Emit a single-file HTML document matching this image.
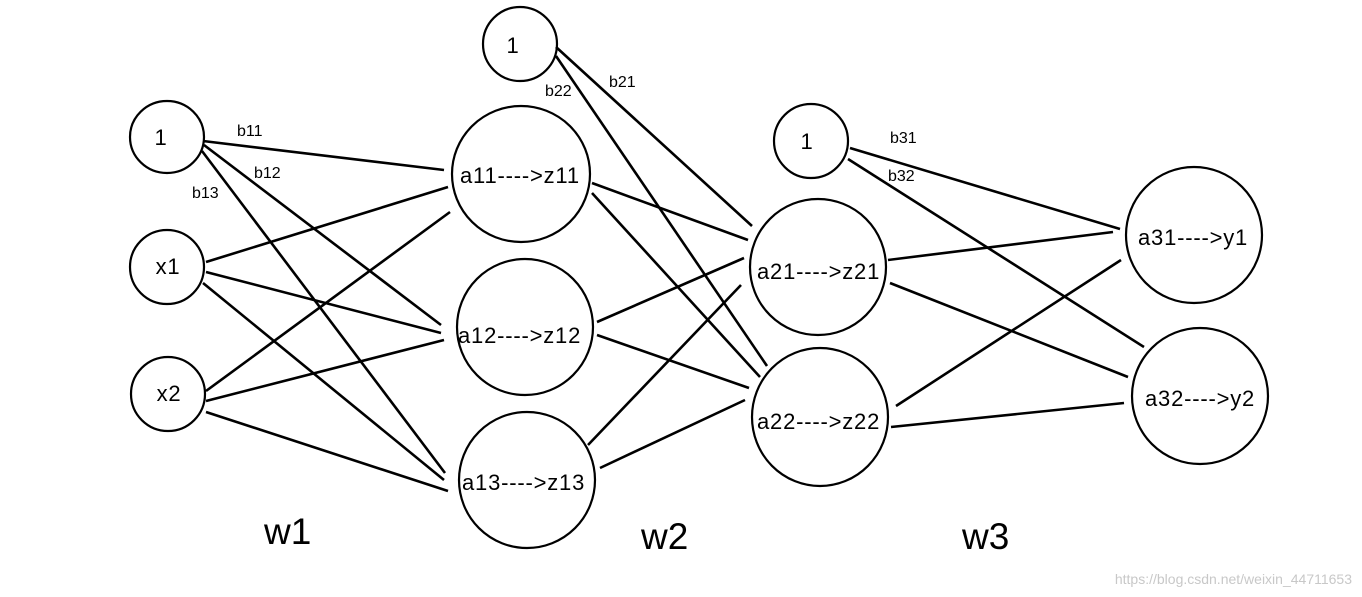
<!DOCTYPE html>
<html><head><meta charset="utf-8"><style>
html,body{margin:0;padding:0;background:#fff;width:1362px;height:597px;overflow:hidden}
svg{display:block}
text{font-family:"Liberation Sans","DejaVu Sans",sans-serif;fill:#000}
</style></head><body>
<svg width="1362" height="597" viewBox="0 0 1362 597">
<g fill="none" stroke="#000" stroke-width="2.2">
<ellipse cx="167" cy="137" rx="37" ry="36"/>
<ellipse cx="167" cy="267" rx="37" ry="37"/>
<ellipse cx="168" cy="394" rx="37" ry="37"/>
<ellipse cx="520" cy="44" rx="37" ry="37"/>
<ellipse cx="521" cy="174" rx="69" ry="68"/>
<ellipse cx="525" cy="327" rx="68" ry="68"/>
<ellipse cx="527" cy="480" rx="68" ry="68"/>
<ellipse cx="811" cy="141" rx="37" ry="37"/>
<ellipse cx="818" cy="267" rx="68" ry="68"/>
<ellipse cx="820" cy="417" rx="68" ry="69"/>
<ellipse cx="1194" cy="235" rx="68" ry="68"/>
<ellipse cx="1200" cy="396" rx="68" ry="68"/>
</g>
<g stroke="#000" stroke-width="2.6">
<line x1="203" y1="141" x2="444" y2="170"/>
<line x1="204" y1="145" x2="441" y2="325"/>
<line x1="202" y1="151" x2="445" y2="473"/>
<line x1="206" y1="262" x2="448" y2="187"/>
<line x1="206" y1="272" x2="441" y2="333"/>
<line x1="203" y1="283" x2="444" y2="480"/>
<line x1="206" y1="391" x2="450" y2="212"/>
<line x1="206" y1="401" x2="444" y2="340"/>
<line x1="206" y1="412" x2="448" y2="491"/>
<line x1="556" y1="47" x2="752" y2="226"/>
<line x1="556" y1="56" x2="767" y2="366"/>
<line x1="592" y1="183" x2="748" y2="240"/>
<line x1="592" y1="193" x2="760" y2="377"/>
<line x1="597" y1="322" x2="744" y2="258"/>
<line x1="597" y1="335" x2="749" y2="388"/>
<line x1="588" y1="445" x2="741" y2="285"/>
<line x1="600" y1="468" x2="745" y2="400"/>
<line x1="850" y1="148" x2="1120" y2="229"/>
<line x1="848" y1="159" x2="1144" y2="347"/>
<line x1="888" y1="260" x2="1113" y2="232"/>
<line x1="890" y1="283" x2="1128" y2="377"/>
<line x1="896" y1="406" x2="1121" y2="260"/>
<line x1="891" y1="427" x2="1124" y2="403"/>
</g>
<g font-size="22" style="letter-spacing:0.8px">
<text x="161" y="145" text-anchor="middle">1</text>
<text x="168" y="274" text-anchor="middle">x1</text>
<text x="169" y="401" text-anchor="middle">x2</text>
<text x="513" y="53" text-anchor="middle">1</text>
<text x="807" y="149" text-anchor="middle">1</text>
<text x="460" y="183">a11----&gt;z11</text>
<text x="458" y="343">a12----&gt;z12</text>
<text x="462" y="490">a13----&gt;z13</text>
<text x="757" y="279">a21----&gt;z21</text>
<text x="757" y="429">a22----&gt;z22</text>
<text x="1138" y="245">a31----&gt;y1</text>
<text x="1145" y="406">a32----&gt;y2</text>
</g>
<g font-size="16" style="fill:#111">
<text x="237" y="136">b11</text>
<text x="254" y="178">b12</text>
<text x="192" y="198">b13</text>
<text x="609" y="87">b21</text>
<text x="545" y="96">b22</text>
<text x="890" y="143">b31</text>
<text x="888" y="181">b32</text>
</g>
<g font-size="37">
<text x="264" y="544">w1</text>
<text x="641" y="549">w2</text>
<text x="962" y="549">w3</text>
</g>
<text x="1352" y="584" text-anchor="end" font-size="14" style="fill:#c8c8c8">https://blog.csdn.net/weixin_44711653</text>
</svg>
</body></html>
